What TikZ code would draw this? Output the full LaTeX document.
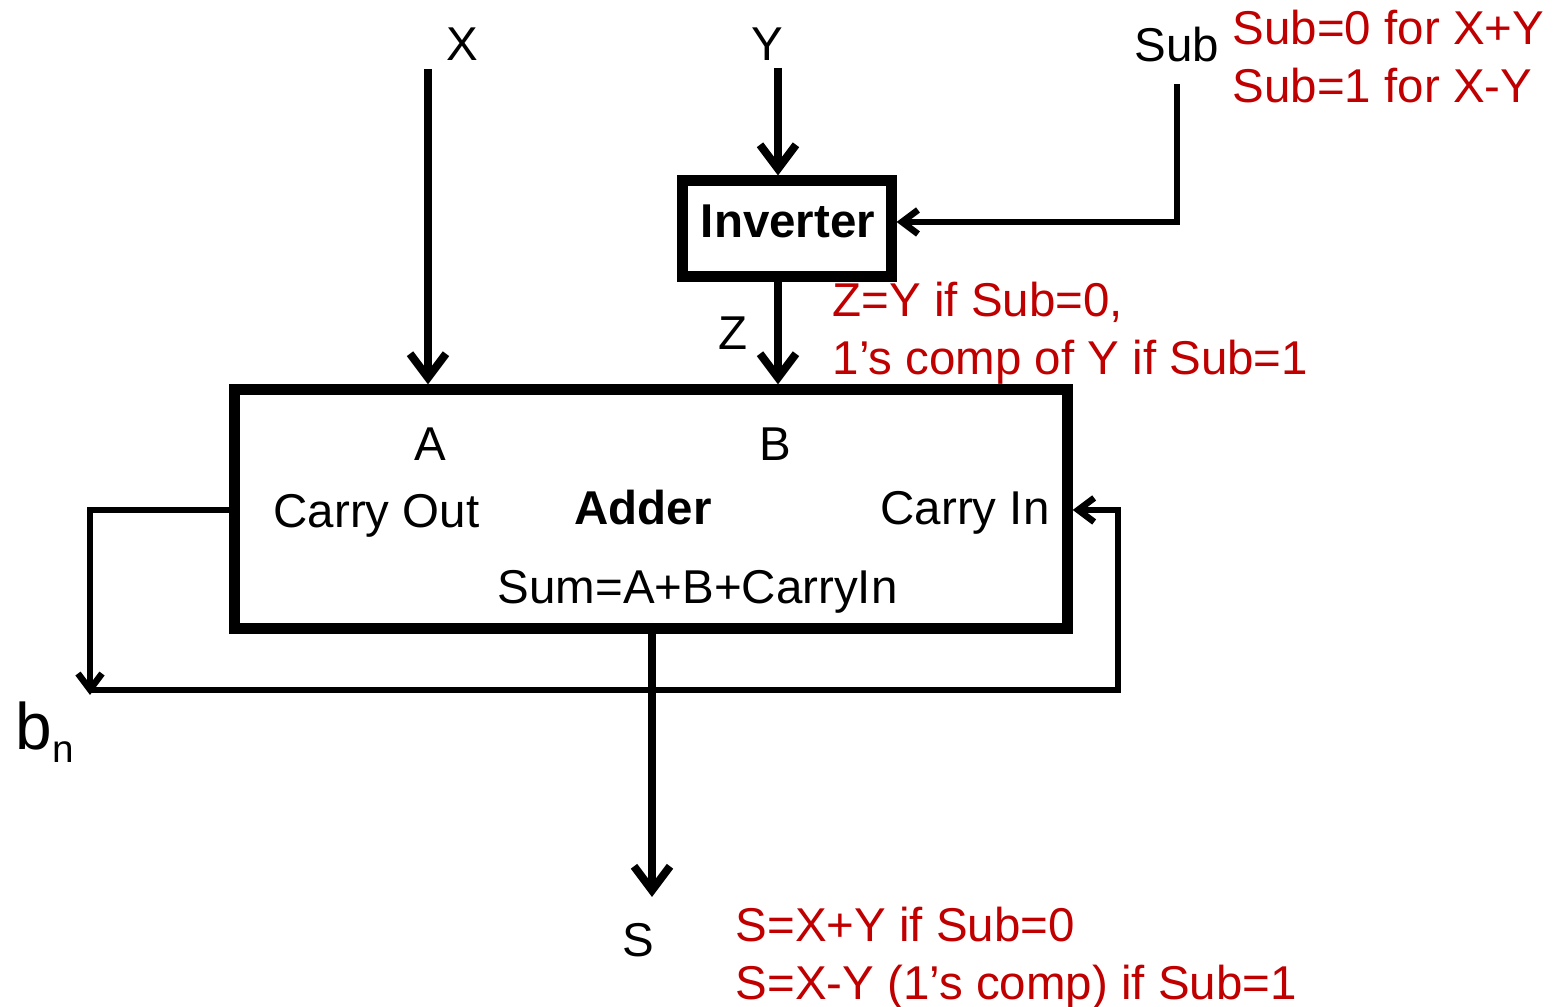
\documentclass[tikz,border=0pt]{standalone}
\usepackage{fontspec}
\setmainfont{Liberation Sans}
\usepackage{xcolor}
\usepackage{tikz}
\usetikzlibrary{arrows.meta, positioning}
\definecolor{ink}{HTML}{000000}
\definecolor{note}{HTML}{C00000}

\begin{document}
\begin{tikzpicture}[x=0.01cm, y=-0.01cm,
    txt/.style={inner sep=0pt, anchor=base, font=\fontsize{13.5}{16}\selectfont},
    lefttxt/.style={txt, anchor=base west},
    boldtxt/.style={txt, font=\fontsize{13.5}{16}\selectfont\bfseries},
    remark/.style={lefttxt, text=note},
    block/.style={rectangle, draw=ink, line width=0.11cm, inner sep=0pt},
    arr/.style={-{Straight Barb[length=0.24cm, width=0.36cm]}, line width=0.08cm, color=ink},
    back/.style={-{Straight Barb[length=0.16cm, width=0.24cm]}, line width=0.065cm, color=ink}
]
    \useasboundingbox (0,0) rectangle (1562,1007);

    % Blocks
    \node[block, minimum width=8.32cm, minimum height=2.38cm] (adder) at (651,509) {};
    \node[block, minimum width=2.08cm, minimum height=0.95cm] (inverter) at (787,228.5) {};
    \node[boldtxt] (invname) at (788,238) {Inverter};
    \node[boldtxt] (addname) at (643,525) {Adder};

    % Ports
    \node[txt] (porta) at (430,461) {A};
    \node[txt] (portb) at (775,461) {B};
    \node[lefttxt] (cout) at (273,528) {Carry Out};
    \node[lefttxt] (cin) at (880,525) {Carry In};
    \node[lefttxt] (sum) at (497,604) {Sum=A+B+CarryIn};

    % Signals
    \node[txt] (xname) at (462,61) {X};
    \node[txt] (yname) at (767,61) {Y};
    \node[txt] (subname) at (1177,62) {Sub};
    \node[txt] (zname) at (733,350) {Z};
    \node[txt] (sname) at (638,957) {S};
    \node[lefttxt, font=\fontsize{18.7}{20}\selectfont] (bn) at (15,750)
        {b\raisebox{-3.7pt}{\fontsize{11}{12}\selectfont n}};

    % Notes
    \node[remark] (subnotea) at (1232,45) {Sub=0 for X+Y};
    \node[remark] (subnoteb) at (1232,103) {Sub=1 for X-Y};
    \node[remark] (znotea) at (832,317) {Z=Y if Sub=0,};
    \node[remark] (znoteb) at (832,375) {1’s comp of Y if Sub=1};
    \node[remark] (snotea) at (735,942) {S=X+Y if Sub=0};
    \node[remark] (snoteb) at (735,1000) {S=X-Y (1’s comp) if Sub=1};

    \coordinate (xin) at (428,69);
    \coordinate (yin) at (778,68);
    \coordinate (subin) at (1177,84);
    \coordinate (subturn) at (1177,222);
    \coordinate (coutturn) at (90,510);
    \coordinate (bnend) at (90,695);
    \coordinate (loopleft) at (90,690);
    \coordinate (loopright) at (1118,690);
    \coordinate (cinturn) at (1118,510);
    \coordinate (sout) at (652,897);

    \draw[arr] (xin) -- (xin |- adder.north);
    \draw[arr] (yin) -- (yin |- inverter.north);
    \draw[back] (subin) -- (subturn) -- (subturn -| inverter.east);
    \draw[arr] (yin |- inverter.south) -- (yin |- adder.north);
    \draw[back] (coutturn -| adder.west) -- (coutturn) -- (bnend);
    \draw[back] (loopleft) -- (loopright) -- (cinturn) -- (cinturn -| adder.east);
    \draw[arr] (sout |- adder.south) -- (sout);
\end{tikzpicture}
\end{document}
